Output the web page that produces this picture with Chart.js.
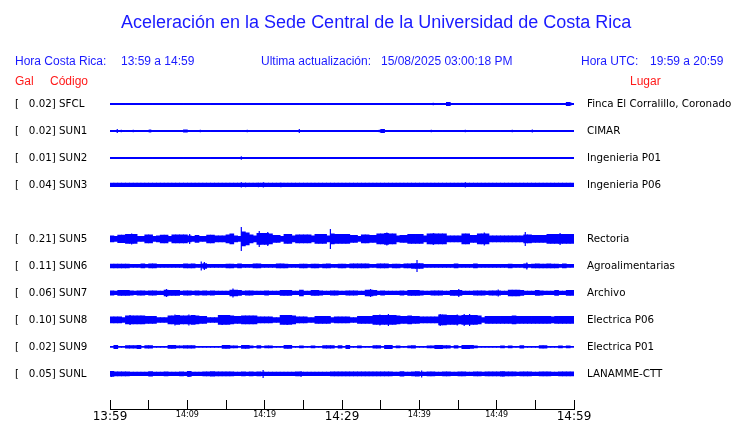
<!DOCTYPE html>
<html lang="es">
<head>
<meta charset="utf-8">
<title>Aceleración Sede Central</title>
<script src="https://cdn.jsdelivr.net/npm/chart.js@4.4.1/dist/chart.umd.min.js"></script>
<style>
  body { margin: 0; background: #fff; }
  .sheet { position: relative; width: 740px; height: 423px; font-family: "Liberation Sans", Arial, sans-serif; }
  .sheet canvas { position: absolute; left: 0; top: 0; }
  .txt { position: absolute; white-space: pre; font-size: 12px; line-height: 14px; color: #1a1aff; }
  .red { color: #ff1a1a; }
  .title { font-size: 18px; line-height: 20px; }
</style>
</head>
<body>
<div class="sheet">
  <canvas id="seismo" width="740" height="423"></canvas>
  <span class="txt title" style="left:121px; top:12px;">Aceleración en la Sede Central de la Universidad de Costa Rica</span>
  <span class="txt" style="left:15px; top:54px;">Hora Costa Rica:</span>
  <span class="txt" style="left:121px; top:54px;">13:59 a 14:59</span>
  <span class="txt" style="left:261px; top:54px;">Ultima actualización:</span>
  <span class="txt" style="left:381px; top:54px;">15/08/2025 03:00:18 PM</span>
  <span class="txt" style="left:581px; top:54px;">Hora UTC:</span>
  <span class="txt" style="left:650px; top:54px;">19:59 a 20:59</span>
  <span class="txt red" style="left:15px; top:74px;">Gal</span>
  <span class="txt red" style="left:50px; top:74px;">Código</span>
  <span class="txt red" style="left:630px; top:74px;">Lugar</span>
</div>
<script>
const CODES = [`SFCL`, `SUN1`, `SUN2`, `SUN3`, `SUN5`, `SUN6`, `SUN7`, `SUN8`, `SUN9`, `SUNL`];
const GAL = [0.02, 0.02, 0.01, 0.04, 0.21, 0.11, 0.06, 0.10, 0.02, 0.05];
const PLACES = [`Finca El Corralillo, Coronado`, `CIMAR`, `Ingenieria P01`, `Ingenieria P06`, `Rectoria`,
  `Agroalimentarias`, `Archivo`, `Electrica P06`, `Electrica P01`, `LANAMME-CTT`];
const ROW_SLOTS = [0, 1, 2, 3, 5, 6, 7, 8, 9, 10];

const TIME_LABELS = [`13:59`, `14:09`, `14:19`, `14:29`, `14:39`, `14:49`, `14:59`];
const TIME_LABEL_MINUTES = [0, 10, 20, 30, 40, 50, 60];
const BIG_LABEL_MINUTES = [0, 30, 60];

// envelope half-amplitude, one value per half minute (120 bins)
const ENV_SFCL = [
  0.5, 0.5, 0.5, 0.5, 0.5, 0.5, 0.5, 0.5, 0.5, 0.5, 0.5, 0.5, 0.5, 0.5, 0.5, 0.5, 0.5, 0.5, 0.5, 0.5,
  0.5, 0.5, 0.5, 0.5, 0.5, 0.5, 0.5, 0.5, 0.5, 0.5, 0.5, 0.5, 0.5, 0.5, 0.5, 0.5, 0.5, 0.5, 0.5, 0.5,
  0.5, 0.5, 0.5, 0.5, 0.5, 0.5, 0.5, 0.5, 0.5, 0.5, 0.5, 0.5, 0.5, 0.5, 0.5, 0.5, 0.5, 0.5, 0.5, 0.5,
  0.5, 0.5, 0.5, 0.5, 0.5, 0.5, 0.5, 0.5, 0.5, 0.5, 0.5, 0.5, 0.5, 0.5, 0.5, 0.5, 0.5, 0.5, 0.5, 0.5,
  0.5, 0.5, 0.5, 0.5, 0.5, 0.5, 0.5, 1.5, 0.5, 0.5, 0.5, 0.5, 0.5, 0.5, 0.5, 0.5, 0.5, 0.5, 0.5, 0.5,
  0.5, 0.5, 0.5, 0.5, 0.5, 0.5, 0.5, 0.5, 0.5, 0.5, 0.5, 0.5, 0.5, 0.5, 0.5, 0.5, 0.5, 0.5, 1.5, 0.5,
];
const ENV_SUN1 = [
  0.5, 0.5, 0.5, 0.5, 0.5, 0.5, 0.5, 0.5, 0.5, 0.5, 0.5, 0.5, 0.5, 0.5, 0.5, 0.5, 0.5, 0.5, 0.5, 1.1,
  0.5, 0.5, 0.5, 0.5, 0.5, 0.5, 0.5, 0.5, 0.5, 0.5, 0.5, 0.5, 0.5, 0.5, 0.5, 0.5, 0.5, 0.5, 0.5, 0.5,
  0.5, 0.5, 0.5, 0.5, 0.5, 0.5, 0.5, 0.5, 0.5, 0.5, 0.5, 0.5, 0.5, 0.5, 0.5, 0.5, 0.5, 0.5, 0.5, 0.5,
  0.5, 0.5, 0.5, 0.5, 0.5, 0.5, 0.5, 0.5, 0.5, 0.5, 1.5, 0.5, 0.5, 0.5, 0.5, 0.5, 0.5, 0.5, 0.5, 0.5,
  0.5, 0.5, 0.5, 0.5, 0.5, 0.5, 0.5, 0.5, 0.5, 0.5, 0.5, 0.5, 0.5, 0.5, 0.5, 0.5, 0.5, 0.5, 0.5, 0.5,
  0.5, 0.5, 0.5, 0.5, 0.5, 0.5, 0.5, 0.5, 0.5, 0.5, 0.5, 0.5, 0.5, 0.5, 0.5, 0.5, 0.5, 0.5, 0.5, 0.5,
];
const ENV_SUN2 = [
  0.5, 0.5, 0.5, 0.5, 0.5, 0.5, 0.5, 0.5, 0.5, 0.5, 0.5, 0.5, 0.5, 0.5, 0.5, 0.5, 0.5, 0.5, 0.5, 0.5,
  0.5, 0.5, 0.5, 0.5, 0.5, 0.5, 0.5, 0.5, 0.5, 0.5, 0.5, 0.5, 0.5, 0.5, 0.5, 0.5, 0.5, 0.5, 0.5, 0.5,
  0.5, 0.5, 0.5, 0.5, 0.5, 0.5, 0.5, 0.5, 0.5, 0.5, 0.5, 0.5, 0.5, 0.5, 0.5, 0.5, 0.5, 0.5, 0.5, 0.5,
  0.5, 0.5, 0.5, 0.5, 0.5, 0.5, 0.5, 0.5, 0.5, 0.5, 0.5, 0.5, 0.5, 0.5, 0.5, 0.5, 0.5, 0.5, 0.5, 0.5,
  0.5, 0.5, 0.5, 0.5, 0.5, 0.5, 0.5, 0.5, 0.5, 0.5, 0.5, 0.5, 0.5, 0.5, 0.5, 0.5, 0.5, 0.5, 0.5, 0.5,
  0.5, 0.5, 0.5, 0.5, 0.5, 0.5, 0.5, 0.5, 0.5, 0.5, 0.5, 0.5, 0.5, 0.5, 0.5, 0.5, 0.5, 0.5, 0.5, 0.5,
];
const ENV_SUN3 = [
  1.7, 1.7, 1.7, 1.7, 1.7, 1.7, 1.7, 1.7, 1.7, 1.7, 1.7, 1.7, 1.7, 1.7, 1.7, 1.7, 1.7, 1.7, 1.7, 1.7,
  1.7, 1.7, 1.7, 1.7, 1.7, 1.7, 1.7, 1.7, 1.7, 1.7, 1.7, 1.7, 1.7, 1.7, 1.7, 1.7, 1.7, 1.7, 1.7, 1.7,
  1.7, 1.7, 1.7, 1.7, 1.7, 1.7, 1.7, 1.7, 1.7, 1.7, 1.7, 1.7, 1.7, 1.7, 1.7, 1.7, 1.7, 1.7, 1.7, 1.7,
  1.7, 1.7, 1.7, 1.7, 1.7, 1.7, 1.7, 1.7, 1.7, 1.7, 1.7, 1.7, 1.7, 1.7, 1.7, 1.7, 1.7, 1.7, 1.7, 1.7,
  1.7, 1.7, 1.7, 1.7, 1.7, 1.7, 1.7, 1.7, 1.7, 1.7, 1.7, 1.7, 1.7, 1.7, 1.7, 1.7, 1.7, 1.7, 1.7, 1.7,
  1.7, 1.7, 1.7, 1.7, 1.7, 1.7, 1.7, 1.7, 1.7, 1.7, 1.7, 1.7, 1.7, 1.7, 1.7, 1.7, 1.7, 1.7, 1.7, 1.7,
];
const ENV_SUN5 = [
  3, 2.5, 3.7, 3.7, 4.5, 4.5, 4.5, 2.5, 2.5, 4, 4, 2.5, 3, 3.8, 3.8, 2.5, 4, 4, 4, 4,
  3, 2.5, 3.5, 2.5, 2.5, 3.8, 3.8, 3, 3, 3, 4, 5, 3, 2.5, 7, 6, 4, 3, 5.5, 5.5,
  5.5, 5, 3.5, 3.5, 2.5, 4.5, 4.5, 3, 4, 4, 4, 4, 3, 4.5, 4.5, 4.5, 3, 5, 4.5, 4.5,
  4.5, 4.5, 3.5, 3.5, 2.5, 4, 4, 3.5, 3.5, 5, 5, 5.5, 5, 5, 3, 3.5, 3.5, 4.5, 4.5, 4.5,
  4.5, 3, 5, 5, 5, 5, 5, 3, 3, 3, 3, 5, 5, 3.5, 3.5, 5, 5, 5, 3, 3,
  3, 3, 3, 3, 3, 3, 3, 4, 4, 3.5, 3.5, 3.5, 3.5, 4.5, 4.5, 4.5, 4.5, 4.5, 4.5, 4.5,
];
const ENV_SUN6 = [
  1.8, 1.8, 1.8, 1.8, 1.8, 1.5, 1.5, 1.5, 2, 1.5, 2, 2, 1.5, 1.5, 1.5, 1.5, 1.5, 1.5, 1.5, 2,
  1.8, 2, 1.5, 1.5, 2.3, 1.5, 1.5, 1.5, 1.5, 1.5, 1.8, 1.8, 1.5, 2, 1.5, 1.5, 1.5, 2, 2, 1.5,
  1.5, 1.5, 1.5, 2, 2, 1.8, 1.5, 1.5, 1.5, 1.8, 1.8, 1.5, 1.8, 1.8, 1.5, 1.8, 2, 1.5, 1.5, 1.8,
  1.8, 1.5, 2, 2, 2, 2, 2, 1.5, 1.5, 2, 2, 2, 1.5, 1.8, 1.8, 1.5, 2, 2, 2.3, 2.3,
  2.3, 1.5, 1.5, 1.5, 1.5, 1.5, 1.5, 1.5, 1.5, 2, 1.5, 1.5, 1.5, 1.5, 2, 1.5, 1.5, 1.5, 1.5, 1.5,
  1.5, 1.5, 1.5, 1.8, 1.5, 1.5, 1.5, 2, 1.5, 1.8, 2, 1.8, 1.8, 2, 1.8, 1.8, 1.5, 2, 1.5, 1.5,
];
const ENV_SUN7 = [
  2.1, 1.7, 2.5, 2.5, 2.5, 2.1, 1.7, 2.1, 2.1, 1.7, 2.1, 2.1, 1.7, 1.7, 2.8, 2.5, 2.5, 2.5, 1.7, 2.1,
  2.1, 1.7, 2.1, 1.9, 2.1, 1.9, 2.1, 1.7, 1.7, 1.7, 1.7, 2.8, 2.8, 2.5, 1.7, 2.1, 2.1, 1.7, 1.7, 1.7,
  2.1, 1.7, 1.7, 1.7, 2.5, 2.5, 2.5, 1.7, 1.7, 2.8, 1.7, 1.7, 2.5, 2.5, 2.1, 1.7, 1.7, 2.1, 2.1, 1.7,
  1.7, 2.1, 2.1, 2.1, 1.7, 1.7, 2.8, 2.8, 2.5, 1.7, 2.1, 1.7, 1.7, 1.7, 1.7, 2.1, 1.7, 2.5, 2.5, 2.5,
  2.1, 1.7, 1.7, 2.1, 2.1, 2.1, 1.7, 1.7, 2.5, 2.5, 2.5, 1.7, 1.7, 1.7, 2.1, 2.1, 2.1, 1.7, 2.1, 2.1,
  2.1, 1.7, 1.7, 2.8, 2.8, 2.8, 2.5, 1.7, 1.7, 1.7, 2.5, 2.1, 1.7, 1.7, 1.7, 2.5, 1.7, 1.7, 2.5, 2.5,
];
const ENV_SUN8 = [
  3, 3, 3, 2.3, 4, 4, 4, 4, 4, 3.5, 3.5, 3.5, 2.3, 2.3, 2.3, 4, 4, 4.5, 4, 4,
  4, 4.5, 4, 3.5, 3.5, 2.3, 2.3, 2.3, 4.5, 4.5, 4.5, 4, 3.5, 3.5, 4, 4, 4, 4, 3, 3,
  3, 3, 2.3, 2.3, 4.5, 4.5, 4.5, 4, 3, 3, 3, 2.3, 2.3, 3.5, 3.5, 3.5, 3.5, 2.3, 3, 3,
  3, 3, 2.3, 2.3, 3.5, 3.5, 3.5, 3.5, 4.5, 4.5, 4.5, 4.5, 4.5, 4.5, 4, 3.5, 3.5, 4, 3.5, 3.5,
  3, 3, 3, 3, 3, 5, 5, 4.5, 4.5, 4.5, 4, 4.5, 4.5, 4.5, 4.5, 4, 2.3, 3.5, 3.5, 3.5,
  3.5, 3.5, 3.5, 3.5, 4, 3.5, 3.5, 3.5, 3.5, 3.5, 3.5, 3.5, 3.5, 3.5, 3, 3.5, 3.5, 3.5, 3.5, 3.5,
];
const ENV_SUN9 = [
  0.5, 1.6, 0.5, 0.5, 1.3, 1.3, 1.3, 1.6, 0.5, 1.3, 1.3, 0.5, 0.5, 0.5, 0.5, 1.4, 1.4, 0.9, 0.9, 1.3,
  1.3, 1.3, 0.5, 0.5, 0.5, 0.5, 0.5, 0.5, 0.5, 1.4, 1.4, 1, 1, 0.5, 1.4, 1.4, 1, 0.5, 1.3, 0.5,
  1, 1, 0.5, 0.5, 0.5, 1.4, 1.4, 0.5, 0.5, 0.9, 0.5, 0.5, 1, 0.5, 0.5, 1.3, 1.3, 1.3, 0.5, 1.3,
  0.5, 1.6, 0.5, 0.5, 1, 0.5, 0.5, 0.5, 1.3, 1.3, 0.5, 1.6, 1.6, 0.5, 1, 0.5, 0.5, 1, 1.3, 0.5,
  0.5, 0.5, 1, 1, 1.6, 1.6, 1.3, 1.3, 0.5, 1.3, 0.5, 1.6, 1.6, 1.5, 0.9, 0.5, 0.5, 0.5, 0.5, 0.5,
  0.5, 0.9, 0.5, 0.9, 0.5, 0.5, 1.3, 0.5, 0.5, 0.5, 0.5, 1.3, 1.3, 0.5, 0.5, 0.5, 0.9, 0.5, 0.9, 0.5,
];
const ENV_SUNL = [
  2.5, 2, 2, 2, 2, 1.7, 1.7, 1.7, 1.7, 1.7, 2.2, 1.7, 1.7, 1.7, 2, 1.7, 1.7, 1.7, 2, 1.7,
  2.5, 1.7, 1.7, 1.7, 2, 2, 2.2, 2, 2, 2, 2, 2, 1.7, 1.7, 2, 1.7, 2, 1.7, 2, 1.7,
  1.7, 1.7, 1.7, 1.7, 1.7, 1.7, 1.7, 1.7, 2, 1.7, 1.7, 1.7, 1.7, 1.7, 1.7, 1.7, 1.7, 2, 2, 2,
  2, 2, 2, 2, 2, 2, 2, 2, 2, 2, 2, 2, 2, 1.7, 1.7, 2.2, 1.7, 1.7, 2, 2.2,
  1.7, 1.7, 2, 2, 1.7, 1.7, 2, 2, 1.7, 1.7, 2, 2, 1.7, 1.7, 2, 2, 1.7, 2, 2, 2,
  2, 2.2, 2, 2, 2, 1.7, 2, 2, 2, 1.7, 1.7, 2, 2, 2, 1.7, 1.7, 2, 2, 2, 2,
];

// isolated peaks: [minute, half-amplitude]
const SPK_SFCL = [[41.8, 1.2], [59.6, 1.5]];
const SPK_SUN1 = [[0.94, 2], [1.46, 1.2], [3.01, 1.2], [5.08, 1.5], [5.26, 1.5], [11.68, 1.2], [17.75, 1.2],
  [24.48, 2], [34.82, 1.2], [41.55, 1.2], [45.95, 1.2], [52.02, 1.2], [54.61, 1.5]];
const SPK_SUN2 = [[16.98, 1.8]];
const SPK_SUN3 = [[16.98, 2.6], [17.53, 2.2], [19.2, 2.2], [19.83, 2.6], [22.1, 2.2], [45.95, 2.6]];
const SPK_SUN5 = [[2.8, 5.5], [10.3, 5], [16.98, 12], [19.3, 8], [20.4, 7], [28.5, 10], [35.8, 6.5],
  [41.8, 6], [48.4, 6.5], [53.7, 7], [58.2, 6]];
const SPK_SUN6 = [[11.8, 4.5], [12.2, 4], [39.7, 6], [53.9, 3.5]];
const SPK_SUN7 = [[7.3, 4], [15.9, 4.5], [33.7, 4], [45.1, 4], [50.2, 3.5]];
const SPK_SUN8 = [[2.6, 5], [8.4, 5.5], [10.2, 5.5], [14.5, 5], [22.9, 5], [34.9, 5.5], [36, 6],
  [42.7, 6], [44.9, 5.5], [45.8, 6], [46.5, 6]];
const SPK_SUN9 = [];
const SPK_SUNL = [[0.2, 3], [10.2, 3], [19.8, 4], [24.7, 3], [40.3, 3.5], [50.8, 2.5]];

const ENVELOPES = [ENV_SFCL, ENV_SUN1, ENV_SUN2, ENV_SUN3, ENV_SUN5, ENV_SUN6, ENV_SUN7, ENV_SUN8, ENV_SUN9, ENV_SUNL];
const SPIKES = [SPK_SFCL, SPK_SUN1, SPK_SUN2, SPK_SUN3, SPK_SUN5, SPK_SUN6, SPK_SUN7, SPK_SUN8, SPK_SUN9, SPK_SUNL];

const BIN_MINUTES = 0.5;
const AMP_PER_ROW = 27;
const TRACE_COLOR = `#0000ff`;
const LABEL_FONT = `DejaVu Sans`;

// every trace shares one stack so bars are not dodged side by side
const datasets = [];
CODES.forEach((code, i) => {
  const row = ROW_SLOTS[i];
  const band = (amp) => [row - amp / AMP_PER_ROW, row + amp / AMP_PER_ROW];

  datasets.push({
    label: code,
    stack: `trace`,
    data: ENVELOPES[i].map((amp, k) => ({x: k * BIN_MINUTES + BIN_MINUTES / 2, y: band(amp)})),
    backgroundColor: TRACE_COLOR,
    borderWidth: 0,
    barThickness: `flex`,
    barPercentage: 1,
    categoryPercentage: 1,
    inflateAmount: 0.4,
  });
  datasets.push({
    label: `${code} picos`,
    stack: `trace`,
    data: SPIKES[i].map(([minute, amp]) => ({x: minute, y: band(amp)})),
    backgroundColor: TRACE_COLOR,
    borderWidth: 0,
    barThickness: 1.2,
    inflateAmount: 0,
  });
});

const rowTicks = (scale) => {
  scale.ticks = ROW_SLOTS.map((value) => ({value}));
};

const rowAxis = (position, width, ticks) => ({
  type: `linear`,
  position,
  reverse: true,
  stacked: false,
  min: -0.5,
  max: 11.3,
  grid: {display: false, drawTicks: false, tickLength: 0},
  border: {display: false},
  afterBuildTicks: rowTicks,
  ticks: Object.assign({color: `#000`, font: {family: LABEL_FONT, size: 10.3}}, ticks),
  afterFit: (scale) => {
    scale.width = width;
    scale.paddingTop = 0;
    scale.paddingBottom = 0;
  },
});

new Chart(document.getElementById(`seismo`), {
  type: `bar`,
  data: {datasets},
  options: {
    responsive: false,
    animation: false,
    layout: {padding: {top: 90.5, left: 15, right: 0, bottom: 0}},
    plugins: {legend: {display: false}, tooltip: {enabled: false}},
    scales: {
      x: {
        type: `linear`,
        min: 0,
        max: 60,
        offset: false,
        grid: {offset: false, drawOnChartArea: false, drawTicks: true, tickLength: -9, color: `#000`, lineWidth: 1},
        border: {display: true, color: `#000`, width: 1},
        ticks: {
          stepSize: 5,
          autoSkip: false,
          maxRotation: 0,
          padding: 10,
          color: `#000`,
          font: (ctx) => ({family: LABEL_FONT, size: ctx.tick && BIG_LABEL_MINUTES.includes(ctx.tick.value) ? 12 : 8}),
          callback: (value) => {
            const idx = TIME_LABEL_MINUTES.indexOf(value);
            return idx === -1 ? `` : TIME_LABELS[idx];
          },
        },
        afterFit: (scale) => {
          scale.height = 14;
        },
      },
      y: rowAxis(`left`, 95, {
        crossAlign: `far`,
        callback: (value, index) => `[   ${GAL[index].toFixed(2)}] ${CODES[index]}`,
      }),
      yPlace: rowAxis(`right`, 166, {
        crossAlign: `near`,
        padding: 13,
        callback: (value, index) => PLACES[index],
      }),
    },
  },
});
</script>
</body>
</html>
